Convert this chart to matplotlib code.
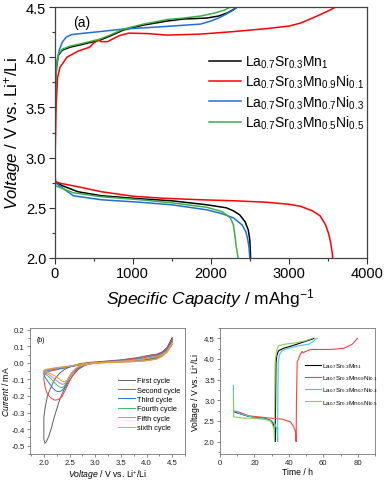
import matplotlib
matplotlib.use("Agg")
import matplotlib.pyplot as plt
from matplotlib.ticker import MultipleLocator, FormatStrFormatter

plt.rcParams.update({
    "font.family": ["Liberation Sans", "DejaVu Sans"],
    "mathtext.fontset": "custom",
    "mathtext.rm": "Liberation Sans",
    "mathtext.it": "Liberation Sans:italic",
    "mathtext.default": "regular",
})

# ---- (a) charge / discharge vs specific capacity ----
samples = [
    r"La$_{0.7}$Sr$_{0.3}$Mn$_{1}$",
    r"La$_{0.7}$Sr$_{0.3}$Mn$_{0.9}$Ni$_{0.1}$",
    r"La$_{0.7}$Sr$_{0.3}$Mn$_{0.7}$Ni$_{0.3}$",
    r"La$_{0.7}$Sr$_{0.3}$Mn$_{0.5}$Ni$_{0.5}$",
]
colors_a = ["#000000", "#ff0000", "#1f6fd8", "#3cb043"]

dis_cap_mn1 = [0, 10, 100, 300, 600, 1100, 1500, 1950, 2200, 2290, 2370, 2440, 2480, 2500, 2505, 2510]
dis_v_mn1 = [3.0, 2.76, 2.72, 2.66, 2.62, 2.59, 2.57, 2.53, 2.50, 2.47, 2.43, 2.36, 2.28, 2.18, 2.10, 2.0]
chg_cap_mn1 = [0, 5, 12, 25, 50, 100, 200, 370, 580, 710, 880, 1140, 1440, 1650, 1950, 2100, 2210, 2300, 2340]
chg_v_mn1 = [2.45, 3.0, 3.6, 3.9, 4.02, 4.07, 4.10, 4.13, 4.17, 4.21, 4.27, 4.32, 4.36, 4.38, 4.39, 4.41, 4.44, 4.48, 4.5]

dis_cap_ni01 = [0, 15, 70, 300, 600, 1010, 1400, 1870, 2300, 2720, 3000, 3150, 3300, 3400, 3470, 3510, 3535, 3555, 3560]
dis_v_ni01 = [2.9, 2.76, 2.745, 2.71, 2.66, 2.615, 2.595, 2.58, 2.57, 2.555, 2.535, 2.515, 2.47, 2.42, 2.33, 2.24, 2.15, 2.05, 2.0]
chg_cap_ni01 = [0, 8, 20, 40, 70, 160, 300, 450, 500, 560, 600, 680, 740, 830, 950, 1200, 1440, 1870, 2290, 2720, 3000, 3150, 3360, 3500, 3600]
chg_v_ni01 = [2.4, 3.0, 3.5, 3.8, 3.9, 4.0, 4.06, 4.1, 4.14, 4.17, 4.155, 4.155, 4.18, 4.215, 4.24, 4.235, 4.22, 4.23, 4.255, 4.285, 4.31, 4.34, 4.41, 4.46, 4.5]

dis_cap_ni03 = [0, 10, 240, 600, 1100, 1500, 1950, 2150, 2290, 2400, 2450, 2475, 2490, 2500]
dis_v_ni03 = [3.0, 2.75, 2.62, 2.58, 2.555, 2.53, 2.48, 2.44, 2.40, 2.33, 2.26, 2.18, 2.10, 2.0]
chg_cap_ni03 = [0, 5, 12, 30, 60, 100, 150, 220, 330, 580, 880, 1200, 1500, 1870, 2000, 2100, 2200, 2290, 2340]
chg_v_ni03 = [2.4, 3.1, 3.7, 3.95, 4.07, 4.15, 4.2, 4.225, 4.235, 4.255, 4.28, 4.295, 4.31, 4.33, 4.36, 4.39, 4.43, 4.47, 4.5]

dis_cap_ni05 = [0, 10, 240, 600, 1100, 1500, 1950, 2150, 2250, 2290, 2310, 2325, 2340, 2350]
dis_v_ni05 = [3.15, 2.72, 2.65, 2.61, 2.58, 2.55, 2.505, 2.46, 2.40, 2.33, 2.22, 2.12, 2.05, 2.0]
chg_cap_ni05 = [0, 5, 12, 25, 50, 100, 200, 370, 580, 710, 880, 1140, 1440, 1650, 1870, 2050, 2180, 2250]
chg_v_ni05 = [2.5, 3.1, 3.65, 3.92, 4.03, 4.08, 4.11, 4.14, 4.18, 4.22, 4.28, 4.33, 4.375, 4.39, 4.41, 4.44, 4.47, 4.5]

# ---- (b) cyclic voltammetry ----
cycles = ["First cycle", "Second cycle", "Third cycle", "Fourth cycle", "Fifth cycle", "sixth cycle"]
colors_b = ["#606060", "#ff3b3b", "#1e78e0", "#3cc060", "#d27ae0", "#e8a22a"]

cv_v_1 = [4.5, 4.4, 4.3, 4.2, 4.0, 3.7, 3.4, 3.1, 2.9, 2.8, 2.67, 2.57, 2.47, 2.38, 2.31, 2.25, 2.2, 2.15, 2.1, 2.05, 2.02,
          2.0, 2.0, 2.0, 2.03, 2.07, 2.12, 2.21, 2.3, 2.4, 2.54, 2.7, 2.9, 3.2, 3.5, 3.8, 4.0, 4.1, 4.2, 4.3, 4.4, 4.5]
cv_i_1 = [0.15, 0.09, 0.055, 0.035, 0.02, 0.012, 0.008, 0.003, -0.005, -0.015, -0.04, -0.075, -0.12, -0.17, -0.22, -0.28, -0.33, -0.39, -0.44, -0.475, -0.485,
          -0.46, -0.40, -0.33, -0.26, -0.20, -0.16, -0.10, -0.065, -0.04, -0.02, -0.005, 0.003, 0.01, 0.018, 0.03, 0.042, 0.048, 0.052, 0.065, 0.09, 0.15]

cv_v_2 = [4.5, 4.4, 4.3, 4.2, 4.0, 3.7, 3.4, 3.1, 2.9, 2.75, 2.65, 2.55, 2.47, 2.41, 2.35, 2.28, 2.21, 2.15, 2.1, 2.05, 2.02, 2.0,
          2.0, 2.02, 2.06, 2.15, 2.3, 2.5, 2.7, 2.9, 3.2, 3.5, 3.8, 4.0, 4.1, 4.2, 4.3, 4.4, 4.5]
cv_i_2 = [0.14, 0.08, 0.05, 0.03, 0.017, 0.01, 0.006, 0.002, -0.006, -0.02, -0.04, -0.08, -0.13, -0.17, -0.205, -0.222, -0.225, -0.215, -0.2, -0.175, -0.14, -0.1,
          -0.085, -0.07, -0.058, -0.048, -0.038, -0.025, -0.012, -0.002, 0.008, 0.015, 0.027, 0.04, 0.045, 0.05, 0.062, 0.085, 0.14]

cv_v_3 = [4.5, 4.4, 4.3, 4.2, 4.0, 3.7, 3.4, 3.1, 2.9, 2.75, 2.65, 2.56, 2.48, 2.42, 2.36, 2.3, 2.24, 2.18, 2.12, 2.06, 2.02, 2.0,
          2.0, 2.03, 2.1, 2.2, 2.4, 2.6, 2.8, 3.0, 3.3, 3.6, 3.9, 4.1, 4.2, 4.3, 4.4, 4.5]
cv_i_3 = [0.13, 0.075, 0.045, 0.027, 0.015, 0.009, 0.005, 0.001, -0.006, -0.018, -0.035, -0.06, -0.10, -0.14, -0.165, -0.175, -0.17, -0.155, -0.13, -0.105, -0.085, -0.07,
          -0.06, -0.052, -0.045, -0.04, -0.03, -0.018, -0.008, 0.0, 0.008, 0.015, 0.027, 0.04, 0.045, 0.057, 0.08, 0.13]

cv_v_4 = [4.5, 4.4, 4.3, 4.2, 4.0, 3.7, 3.4, 3.1, 2.9, 2.75, 2.65, 2.57, 2.5, 2.45, 2.4, 2.35, 2.3, 2.24, 2.18, 2.12, 2.06, 2.02, 2.0,
          2.0, 2.03, 2.1, 2.2, 2.4, 2.6, 2.8, 3.0, 3.3, 3.6, 3.9, 4.1, 4.2, 4.3, 4.4, 4.5]
cv_i_4 = [0.125, 0.07, 0.042, 0.025, 0.014, 0.008, 0.004, 0.0, -0.006, -0.016, -0.03, -0.05, -0.08, -0.11, -0.14, -0.15, -0.145, -0.13, -0.11, -0.09, -0.075, -0.065, -0.06,
          -0.052, -0.046, -0.04, -0.035, -0.027, -0.016, -0.007, 0.0, 0.007, 0.013, 0.024, 0.036, 0.041, 0.053, 0.075, 0.125]

cv_v_5 = [4.5, 4.4, 4.3, 4.2, 4.0, 3.7, 3.4, 3.1, 2.9, 2.75, 2.65, 2.58, 2.52, 2.47, 2.42, 2.37, 2.32, 2.26, 2.2, 2.14, 2.08, 2.03, 2.0,
          2.0, 2.03, 2.1, 2.2, 2.4, 2.6, 2.8, 3.0, 3.3, 3.6, 3.9, 4.1, 4.2, 4.3, 4.4, 4.5]
cv_i_5 = [0.12, 0.068, 0.04, 0.024, 0.013, 0.007, 0.004, 0.0, -0.006, -0.015, -0.028, -0.045, -0.07, -0.1, -0.123, -0.13, -0.125, -0.11, -0.095, -0.08, -0.068, -0.058, -0.055,
          -0.048, -0.043, -0.038, -0.033, -0.025, -0.015, -0.006, 0.0, 0.006, 0.012, 0.022, 0.034, 0.039, 0.05, 0.072, 0.12]

cv_v_6 = [4.5, 4.4, 4.3, 4.2, 4.0, 3.7, 3.4, 3.1, 2.9, 2.75, 2.66, 2.6, 2.55, 2.5, 2.45, 2.4, 2.35, 2.29, 2.22, 2.15, 2.08, 2.03, 2.0,
          2.0, 2.03, 2.1, 2.2, 2.4, 2.6, 2.8, 3.0, 3.3, 3.6, 3.9, 4.1, 4.2, 4.3, 4.4, 4.5]
cv_i_6 = [0.11, 0.062, 0.037, 0.022, 0.012, 0.006, 0.003, 0.0, -0.006, -0.014, -0.025, -0.04, -0.06, -0.085, -0.105, -0.115, -0.11, -0.095, -0.08, -0.068, -0.058, -0.05, -0.048,
          -0.044, -0.04, -0.036, -0.031, -0.023, -0.014, -0.005, 0.0, 0.005, 0.011, 0.02, 0.031, 0.036, 0.046, 0.066, 0.11]

# ---- (c) voltage vs time ----
colors_c = ["#000000", "#ff4040", "#40c4f0", "#8ccc50"]

t_mn1 = [8.4, 12, 16, 20, 26, 29, 30.2, 31, 31.7, 32, 32.1, 32.3, 32.5, 33, 34, 37, 41.9, 47.7, 53.5, 54.5]
v_mn1 = [2.72, 2.67, 2.62, 2.59, 2.56, 2.52, 2.48, 2.42, 2.32, 2.15, 2.0, 3.0, 3.9, 4.08, 4.2, 4.26, 4.32, 4.40, 4.48, 4.5]

t_ni01 = [8.8, 12, 16.5, 26.3, 36, 40.9, 42.8, 43.8, 44.2, 44.4, 44.8, 46.7, 47.6, 48.4, 49.6, 52.6, 64.2, 72, 76.9, 79.8]
v_ni01 = [2.74, 2.70, 2.625, 2.58, 2.545, 2.48, 2.36, 2.24, 2.0, 3.0, 3.92, 4.12, 4.18, 4.15, 4.18, 4.23, 4.23, 4.26, 4.36, 4.5]

t_ni03 = [7.8, 7.9, 12, 20, 26, 30, 32, 33, 33.4, 33.5, 33.6, 33.8, 34.5, 36, 40, 45.7, 51.6, 54, 55.5, 56.5]
v_ni03 = [3.36, 2.75, 2.67, 2.58, 2.55, 2.50, 2.42, 2.30, 2.10, 2.0, 3.0, 3.9, 4.1, 4.2, 4.26, 4.32, 4.36, 4.42, 4.48, 4.5]

t_ni05 = [7.8, 7.9, 12, 20, 26, 29, 30.5, 31.3, 31.6, 31.7, 31.8, 32, 32.8, 34, 38, 43.8, 49.6, 53.5]
v_ni05 = [3.12, 2.60, 2.575, 2.56, 2.54, 2.50, 2.42, 2.30, 2.10, 2.0, 3.0, 3.9, 4.2, 4.32, 4.36, 4.39, 4.44, 4.5]

W, H = 386, 481
fig = plt.figure(figsize=(W / 100, H / 100), dpi=100)


def rect(x0, y0, x1, y1):
    return [x0 / W, 1 - y1 / H, (x1 - x0) / W, (y1 - y0) / H]


# panel (a)
ax = fig.add_axes(rect(54.5, 8, 367, 259))
for (cd, vd, cc, vc), lab, col in zip(
    [(dis_cap_mn1, dis_v_mn1, chg_cap_mn1, chg_v_mn1),
     (dis_cap_ni01, dis_v_ni01, chg_cap_ni01, chg_v_ni01),
     (dis_cap_ni03, dis_v_ni03, chg_cap_ni03, chg_v_ni03),
     (dis_cap_ni05, dis_v_ni05, chg_cap_ni05, chg_v_ni05)],
    samples, colors_a):
    ax.plot(cc, vc, color=col, lw=1.1, label=lab)
    ax.plot(cd, vd, color=col, lw=1.1)
ax.set_xlim(0, 4000)
ax.set_ylim(2.0, 4.5)
ax.xaxis.set_major_locator(MultipleLocator(1000))
ax.xaxis.set_minor_locator(MultipleLocator(500))
ax.yaxis.set_major_locator(MultipleLocator(0.5))
ax.yaxis.set_minor_locator(MultipleLocator(0.25))
ax.yaxis.set_major_formatter(FormatStrFormatter("%.1f"))
ax.tick_params(which="both", direction="out", labelsize=10.5, width=0.8, colors="#333333", labelcolor="black", pad=2)
ax.tick_params(which="major", length=4)
ax.tick_params(which="minor", length=2.5)
for s in ax.spines.values():
    s.set_linewidth(0.9)
    s.set_color("#444444")
ax.set_xlabel(r"$\mathit{Specific\ Capacity}$ / mAhg$^{-1}$", fontsize=12.5, labelpad=4)
ax.set_ylabel(r"$\mathit{Voltage}$ / V vs. Li$^{+}$/Li", fontsize=12.2, labelpad=2)
ax.text(0.06, 0.925, "(a)", transform=ax.transAxes, fontsize=10)
ax.legend(loc="upper left", bbox_to_anchor=(0.495, 0.815), frameon=False, fontsize=10,
          handlelength=2.3, handletextpad=0.25, labelspacing=0.22, borderpad=0, borderaxespad=0)

# panel (b)
bx = fig.add_axes(rect(30, 329, 185, 455))
for v, i, lab, col in zip([cv_v_1, cv_v_2, cv_v_3, cv_v_4, cv_v_5, cv_v_6],
                          [cv_i_1, cv_i_2, cv_i_3, cv_i_4, cv_i_5, cv_i_6],
                          cycles, colors_b):
    bx.plot(v, i, color=col, lw=0.7, label=lab)
bx.set_xlim(1.73, 4.75)
bx.set_ylim(-0.55, 0.21)
bx.xaxis.set_major_locator(MultipleLocator(0.5))
bx.xaxis.set_minor_locator(MultipleLocator(0.25))
bx.yaxis.set_major_locator(MultipleLocator(0.1))
bx.yaxis.set_minor_locator(MultipleLocator(0.05))
bx.xaxis.set_major_formatter(FormatStrFormatter("%.1f"))
bx.yaxis.set_major_formatter(FormatStrFormatter("%.1f"))
bx.set_xlabel(r"$\mathit{Voltage}$ / V vs. Li$^{+}$/Li", fontsize=6.2, labelpad=0.5)
bx.set_ylabel(r"$\mathit{Current}$ / mA", fontsize=6.2, labelpad=0.5)
bx.text(0.04, 0.9, "(b)", transform=bx.transAxes, fontsize=5)
bx.legend(loc="upper left", bbox_to_anchor=(0.57, 0.61), frameon=False, fontsize=5.3,
          handlelength=2.2, handletextpad=0.4, labelspacing=0.3, borderpad=0, borderaxespad=0)

# panel (c)
cx = fig.add_axes(rect(220, 329, 375, 455))
for t, v, lab, col in zip([t_mn1, t_ni01, t_ni03, t_ni05], [v_mn1, v_ni01, v_ni03, v_ni05],
                          samples, colors_c):
    cx.plot(t, v, color=col, lw=0.8, label=lab)
cx.set_xlim(0, 90)
cx.set_ylim(1.7, 4.75)
cx.xaxis.set_major_locator(MultipleLocator(20))
cx.xaxis.set_minor_locator(MultipleLocator(10))
cx.yaxis.set_major_locator(MultipleLocator(0.5))
cx.yaxis.set_minor_locator(MultipleLocator(0.25))
cx.yaxis.set_major_formatter(FormatStrFormatter("%.1f"))
cx.set_xlabel("Time / h", fontsize=6.2, labelpad=0.5)
cx.set_ylabel(r"Voltage / V vs. Li$^{+}$/Li", fontsize=6.2, labelpad=0.5)
cx.legend(loc="upper left", bbox_to_anchor=(0.55, 0.735), frameon=False, fontsize=4.6,
          handlelength=2.4, handletextpad=0.3, labelspacing=0.5, borderpad=0, borderaxespad=0)

for a in (bx, cx):
    a.tick_params(which="both", direction="out", labelsize=5.6, width=0.5, colors="#555555", labelcolor="#222222", pad=1.2)
    a.tick_params(which="major", length=2.5)
    a.tick_params(which="minor", length=1.5)
    for s in a.spines.values():
        s.set_linewidth(0.6)
        s.set_color("#777777")

fig.savefig("out.png", dpi=100)
